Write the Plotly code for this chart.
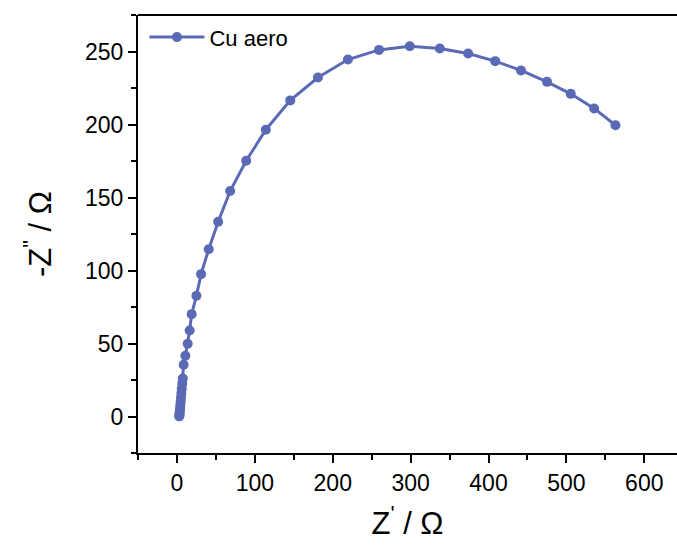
import plotly.graph_objects as go

# Nyquist data for "Cu aero"
z_real = [3.0, 3.1, 3.3, 3.5, 3.8, 4.1, 4.4, 4.8, 5.2, 5.7, 6.2, 6.8, 7.5,
          8.6, 10.8, 13.8, 16.3, 18.9, 25.0, 31.0, 40.8, 52.9, 68.3, 88.9,
          114.1, 145.5, 181.0, 219.5, 259.4, 298.9, 337.5, 373.9, 408.6,
          441.7, 475.1, 505.6, 535.6, 563.0]
z_imag = [0.1, 0.7, 1.6, 2.8, 4.2, 6.0, 8.0, 10.5, 13.0, 16.0, 19.0, 22.5, 26.0,
          35.4, 41.6, 49.8, 58.9, 70.1, 82.7, 97.5, 114.6, 133.4, 154.4, 175.2,
          196.4, 216.5, 232.2, 244.5, 251.1, 253.6, 252.1, 248.6, 243.4,
          237.0, 229.2, 221.0, 211.0, 199.5]
series_name = "Cu aero"
color = "#5B6AB5"

fig = go.Figure()
fig.add_trace(go.Scatter(
    x=z_real, y=z_imag, mode="lines+markers", name=series_name,
    line=dict(color=color, width=3),
    marker=dict(color=color, size=10),
))

font_family = "Arial, Liberation Sans"
axis_common = dict(
    showline=True, linecolor="black", linewidth=2,
    ticks="outside", ticklen=8, tickwidth=1.5, tickcolor="black",
    showgrid=False, zeroline=False,
    tickfont=dict(family=font_family, size=23, color="black"),
)

fig.update_xaxes(
    range=[-50, 642], dtick=100, tick0=0,
    minor=dict(ticks="outside", ticklen=5, tickwidth=1.5, tickcolor="black", dtick=50, tick0=0),
    title=dict(text="Z<sup>'</sup> / Ω", font=dict(family=font_family, size=31, color="black"), standoff=18),
    **axis_common,
)
fig.update_yaxes(
    range=[-25, 275], dtick=50, tick0=0,
    minor=dict(ticks="outside", ticklen=5, tickwidth=1.5, tickcolor="black", dtick=25, tick0=0),
    title=dict(text='-Z<sup>"</sup> / Ω', font=dict(family=font_family, size=31, color="black"), standoff=24),
    **axis_common,
)

# top border line
fig.add_shape(type="line", xref="paper", yref="paper", x0=0, x1=1, y0=1, y1=1,
              line=dict(color="black", width=2))

fig.update_layout(
    width=677, height=547,
    margin=dict(l=138, r=0, t=15, b=94),
    paper_bgcolor="white", plot_bgcolor="white",
    showlegend=True,
    legend=dict(x=0.012, y=0.997, xanchor="left", yanchor="top",
                itemwidth=55,
                font=dict(family=font_family, size=22, color="black"),
                bgcolor="rgba(0,0,0,0)"),
)

fig.write_html("out.html")
